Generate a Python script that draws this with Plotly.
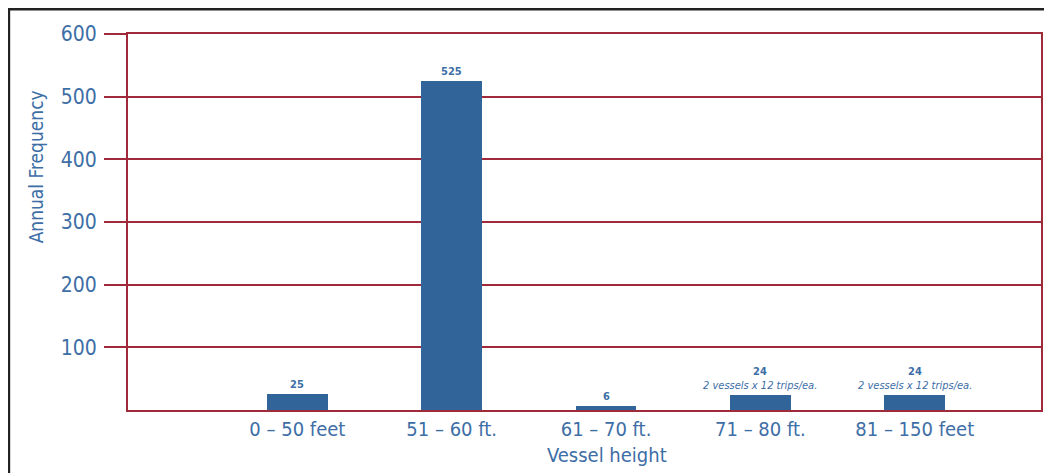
import plotly.graph_objects as go

categories = ["0 – 50 feet", "51 – 60 ft.", "61 – 70 ft.", "71 – 80 ft.", "81 – 150 feet"]
values = [25, 525, 6, 24, 24]
notes = ["", "", "", "2 vessels x 12 trips/ea.", "2 vessels x 12 trips/ea."]
y_ticks = [100, 200, 300, 400, 500, 600]

BAR = "#31659a"
RED = "#9e2a3a"
TXT = "#3d6ea6"
FONT = "DejaVu Sans Condensed, Liberation Sans Narrow, Roboto, sans-serif"

xs = list(range(len(categories)))
fig = go.Figure()
fig.add_trace(go.Bar(x=xs, y=values, width=0.392, marker=dict(color=BAR, line=dict(width=0)),
                     hoverinfo="skip", showlegend=False))

for i, (v, n) in enumerate(zip(values, notes)):
    if n:
        fig.add_annotation(x=i, y=v, text=f"<b>{v}</b>", showarrow=False, yanchor="bottom",
                           yshift=15, font=dict(family=FONT, size=11, color=TXT))
        fig.add_annotation(x=i, y=v, text=f"<i>{n}</i>", showarrow=False, yanchor="bottom",
                           yshift=1, font=dict(family=FONT, size=11, color=TXT))
    else:
        fig.add_annotation(x=i, y=v, text=f"<b>{v}</b>", showarrow=False, yanchor="bottom",
                           yshift=1, font=dict(family=FONT, size=11, color=TXT))

fig.add_annotation(xref="paper", yref="paper", x=-0.1005, y=0.646, text="Annual Frequency",
                   textangle=-90, showarrow=False, xanchor="center", yanchor="middle",
                   font=dict(family=FONT, size=19, color=TXT))
fig.add_annotation(xref="paper", yref="paper", x=0.5246, y=-0.1197, text="Vessel height",
                   showarrow=False, xanchor="center", yanchor="middle",
                   font=dict(family=FONT, size=20, color=TXT))

fig.update_layout(
    width=1044, height=465,
    margin=dict(l=120, r=9, t=26, b=63),
    paper_bgcolor="white", plot_bgcolor="white",
    font=dict(family=FONT, color=TXT),
    bargap=0,
    xaxis=dict(range=[-1.097, 4.818], tickmode="array", tickvals=xs, ticktext=categories,
               showgrid=False, zeroline=False, showline=True, linecolor=RED, linewidth=2,
               mirror=True, ticks="", tickfont=dict(size=20, color=TXT)),
    yaxis=dict(range=[0, 600], tickmode="array", tickvals=y_ticks,
               showgrid=True, gridcolor=RED, gridwidth=2, zeroline=False,
               showline=True, linecolor=RED, linewidth=2, mirror=True,
               ticks="outside", ticklen=22, tickwidth=2, tickcolor=RED,
               tickfont=dict(size=21, color=TXT), ticklabelstandoff=3),
    shapes=[
        dict(type="line", xref="paper", yref="paper", x0=-0.1304, x1=1.02,
             y0=1.0665, y1=1.0665, line=dict(color="#222222", width=3)),
        dict(type="line", xref="paper", yref="paper", x0=-0.1304, x1=-0.1304,
             y0=1.07, y1=-0.2, line=dict(color="#222222", width=2.5)),
    ],
)

fig.write_html("out.html")
